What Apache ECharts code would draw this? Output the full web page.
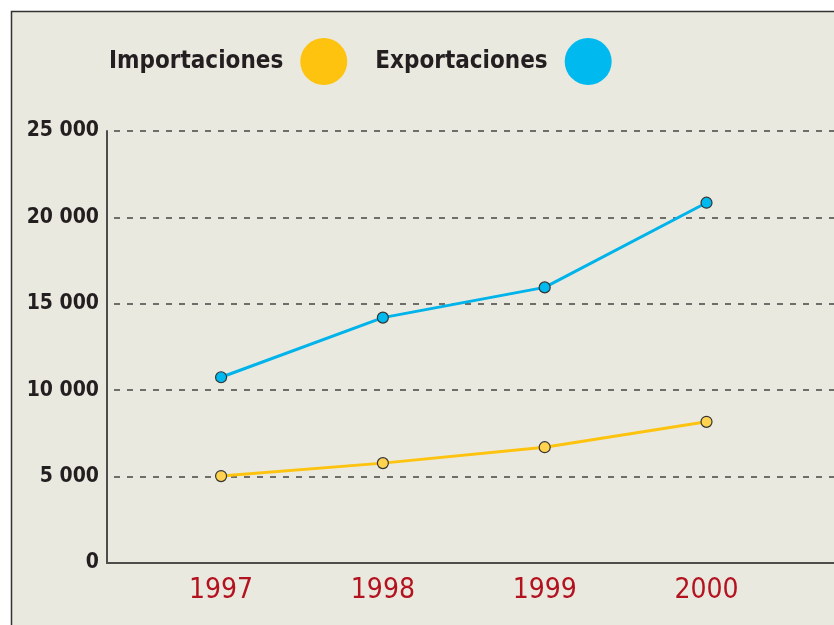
<!DOCTYPE html>
<html>
<head>
<meta charset="utf-8">
<script src="https://cdn.jsdelivr.net/npm/echarts@6/dist/echarts.min.js"></script>
<style>
html,body{margin:0;padding:0;background:#fff;}
#c{width:834px;height:625px;}
</style>
</head>
<body>
<div id="c"></div>
<script>
var years = [1997, 1998, 1999, 2000];
var importaciones = [5030, 5780, 6700, 8170];
var exportaciones = [10750, 14200, 15950, 20850];
var yTicks = [0, 5000, 10000, 15000, 20000, 25000];
var seriesNames = ['Importaciones', 'Exportaciones'];

var FONT = '"DejaVu Sans Condensed", "Liberation Sans Narrow", sans-serif';
var chart = echarts.init(document.getElementById('c'));

function pairs(vals) { return years.map(function (y, i) { return [y, vals[i]]; }); }
function fmt(v) { return String(v).replace(/\B(?=(\d{3})+(?!\d))/g, ' '); }

chart.setOption({
  backgroundColor: '#ffffff',
  animation: false,
  graphic: [{
    type: 'rect', z: -10, silent: true,
    shape: { x: 11.5, y: 11.5, width: 900, height: 700 },
    style: { fill: '#EAE9DF', stroke: '#333333', lineWidth: 1.5 }
  }],
  legend: {
    left: 104, top: 33,
    align: 'right',
    icon: 'circle',
    itemWidth: 47, itemHeight: 47,
    itemGap: 28,
    itemStyle: { borderWidth: 0 },
    textStyle: { fontFamily: FONT, fontWeight: 'bold', fontSize: 24, color: '#231F20', padding: [0, 12, 0, 0] },
    data: [
      { name: seriesNames[0], itemStyle: { color: '#FDC30F' } },
      { name: seriesNames[1], itemStyle: { color: '#00B9EF' } }
    ]
  },
  grid: { left: 107, top: 131, right: 0, bottom: 62, containLabel: false },
  xAxis: {
    type: 'value',
    min: 1996.295, max: 2000.788,
    axisLine: { show: true, lineStyle: { color: '#4D4D4A', width: 2 } },
    axisTick: { show: false },
    splitLine: { show: false },
    axisLabel: {
      customValues: years,
      formatter: function (v) { return String(v); },
      margin: 14,
      fontFamily: FONT, fontSize: 28, color: '#B3121F'
    }
  },
  yAxis: {
    type: 'value',
    min: 0, max: 25000, interval: 5000,
    axisLine: { show: true, lineStyle: { color: '#4D4D4A', width: 2 } },
    axisTick: { show: false },
    splitLine: { show: true, lineStyle: { color: '#444444', width: 1.5, type: [6, 7], dashOffset: -7 } },
    axisLabel: {
      customValues: yTicks,
      formatter: fmt, margin: 8,
      fontFamily: FONT, fontWeight: 'bold', fontSize: 21, color: '#231F20'
    }
  },
  series: [
    {
      name: seriesNames[0], type: 'line', data: pairs(importaciones),
      symbol: 'circle', symbolSize: 11,
      lineStyle: { color: '#FDC30F', width: 3 },
      itemStyle: { color: '#FFD24F', borderColor: '#333333', borderWidth: 1.2 }
    },
    {
      name: seriesNames[1], type: 'line', data: pairs(exportaciones),
      symbol: 'circle', symbolSize: 11,
      lineStyle: { color: '#00B3EA', width: 3 },
      itemStyle: { color: '#00B9EF', borderColor: '#333333', borderWidth: 1.2 }
    }
  ]
});
</script>
</body>
</html>
